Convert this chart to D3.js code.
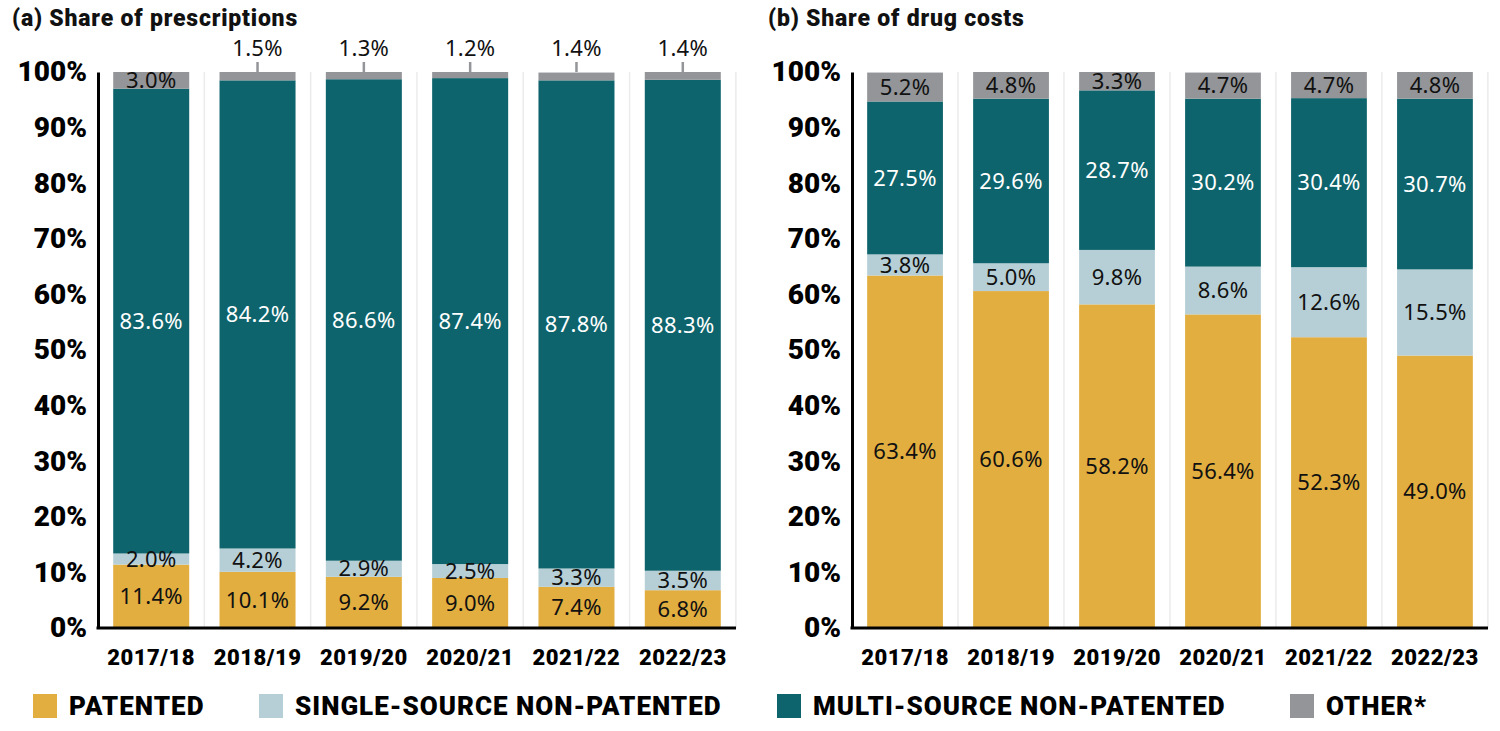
<!DOCTYPE html>
<html>
<head>
<meta charset="utf-8">
<script src="https://cdn.jsdelivr.net/npm/d3@7"></script>
<style>
  body { margin: 0; background: #fff; }
  svg { display: block; }
  .panel-title { font-family: Roboto, sans-serif; font-weight: 900; font-size: 23px; letter-spacing: 0.8px; fill: #111; }
  .y-axis text { font-family: Roboto, sans-serif; font-weight: 900; font-size: 28px; fill: #000; }
  .x-axis text { font-family: Roboto, sans-serif; font-weight: 900; font-size: 22px; letter-spacing: 0.5px; fill: #000; }
  .vlab { font-family: "Noto Sans", sans-serif; font-size: 22px; letter-spacing: 0.3px; }
  .legend text { font-family: Roboto, sans-serif; font-weight: 900; font-size: 26px; letter-spacing: 1px; fill: #000; }
</style>
</head>
<body>
<div id="chart"></div>
<script>

// categories
let years = ["2017/18", "2018/19", "2019/20", "2020/21", "2021/22", "2022/23"];
let seriesKeys = ["patented", "single", "multi", "other"];
let seriesNames = ["PATENTED", "SINGLE-SOURCE NON-PATENTED", "MULTI-SOURCE NON-PATENTED", "OTHER*"];
let colors = ["#e2ae40", "#b6cfd6", "#0e646c", "#939598"];
let yTicks = [0, 10, 20, 30, 40, 50, 60, 70, 80, 90, 100];

// (a) share of prescriptions
let rxPatented = [11.4, 10.1, 9.2, 9.0, 7.4, 6.8];
let rxSingle = [2.0, 4.2, 2.9, 2.5, 3.3, 3.5];
let rxMulti = [83.6, 84.2, 86.6, 87.4, 87.8, 88.3];
let rxOther = [3.0, 1.5, 1.3, 1.2, 1.4, 1.4];

// (b) share of drug costs
let costPatented = [63.4, 60.6, 58.2, 56.4, 52.3, 49.0];
let costSingle = [3.8, 5.0, 9.8, 8.6, 12.6, 15.5];
let costMulti = [27.5, 29.6, 28.7, 30.2, 30.4, 30.7];
let costOther = [5.2, 4.8, 3.3, 4.7, 4.7, 4.8];

function buildRows(p, s, m, o) {
	return years.map((y, i) => ({year: y, patented: p[i], single: s[i], multi: m[i], other: o[i]}));
}

let width = 1500, height = 731;

let svg = d3.select("#chart").append("svg")
	.attr("width", width)
	.attr("height", height);

function drawPanel(config) {
	let margin = {top: 72, left: config.left};
	let w = config.width, h = 556;

	let g = svg.append("g")
		.attr("transform", "translate(" + margin.left + "," + margin.top + ")");

	svg.append("text")
		.attr("class", "panel-title")
		.attr("x", config.titleX)
		.attr("y", 26)
		.text(config.title);

	let x = d3.scaleBand()
		.domain(years)
		.range([0, w])
		.paddingInner(0.285)
		.paddingOuter(0.143);

	let y = d3.scaleLinear()
		.domain([0, 100])
		.range([h, 0]);

	// faint separators between categories
	g.selectAll("line.sep")
		.data(years)
		.enter()
		.append("line")
		.attr("class", "sep")
		.attr("x1", (d, i) => (i + 1) * x.step())
		.attr("x2", (d, i) => (i + 1) * x.step())
		.attr("y1", 0)
		.attr("y2", h)
		.attr("stroke", "#ebebeb")
		.attr("stroke-width", 1.5);

	let stack = d3.stack().keys(seriesKeys);
	let series = stack(config.data);

	let layers = g.selectAll("g.layer")
		.data(series)
		.enter()
		.append("g")
		.attr("class", "layer")
		.attr("fill", (d, i) => colors[i]);

	layers.selectAll("rect")
		.data(d => d)
		.enter()
		.append("rect")
		.attr("x", d => x(d.data.year))
		.attr("y", d => y(Math.min(d[1], 100)))
		.attr("width", x.bandwidth())
		.attr("height", d => y(d[0]) - y(Math.min(d[1], 100)));

	// value labels
	series.forEach((s, si) => {
		s.forEach((d, i) => {
			let v = d.data[s.key];
			let cx = x(d.data.year) + x.bandwidth() / 2;
			let top = Math.min(d[1], 100);
			let cy = y((d[0] + top) / 2);
			let outside = s.key === "other" && config.outsideOther && i > 0;

			if (outside) {
				g.append("line")
					.attr("x1", cx).attr("x2", cx)
					.attr("y1", y(100) - 10).attr("y2", y(100))
					.attr("stroke", colors[3])
					.attr("stroke-width", 2.5);
				cy = y(100) - 24;
			}

			g.append("text")
				.attr("class", "vlab")
				.attr("x", cx)
				.attr("y", cy)
				.attr("dy", "0.35em")
				.attr("text-anchor", "middle")
				.attr("fill", s.key === "multi" ? "#fff" : "#111")
				.text(v.toFixed(1) + "%");
		});
	});

	let yAxis = d3.axisLeft(y)
		.tickValues(yTicks)
		.tickSize(0)
		.tickPadding(11)
		.tickFormat(d => d + "%");

	let yg = g.append("g")
		.attr("class", "y-axis")
		.call(yAxis);
	yg.select(".domain").attr("stroke", "#000").attr("stroke-width", 3);

	let xAxis = d3.axisBottom(x)
		.tickSize(0)
		.tickPadding(21);

	let xg = g.append("g")
		.attr("class", "x-axis")
		.attr("transform", "translate(0," + h + ")")
		.call(xAxis);
	xg.select(".domain").remove();

	g.append("line")
		.attr("x1", -1.5).attr("x2", w)
		.attr("y1", h).attr("y2", h)
		.attr("stroke", "#000")
		.attr("stroke-width", 3);
}

drawPanel({
	left: 98, width: 638, titleX: 12,
	title: "(a) Share of prescriptions",
	data: buildRows(rxPatented, rxSingle, rxMulti, rxOther),
	outsideOther: true
});

drawPanel({
	left: 852, width: 636, titleX: 768,
	title: "(b) Share of drug costs",
	data: buildRows(costPatented, costSingle, costMulti, costOther),
	outsideOther: false
});

// legend
let legendX = [33, 259, 777, 1290];

let legend = svg.append("g")
	.attr("class", "legend")
	.selectAll("g")
	.data(seriesNames)
	.enter()
	.append("g")
	.attr("transform", (d, i) => "translate(" + legendX[i] + ",694)");

legend.append("rect")
	.attr("width", 24)
	.attr("height", 24)
	.attr("fill", (d, i) => colors[i]);

legend.append("text")
	.attr("x", 36)
	.attr("y", 12)
	.attr("dy", "0.36em")
	.text(d => d);

</script>
</body>
</html>
